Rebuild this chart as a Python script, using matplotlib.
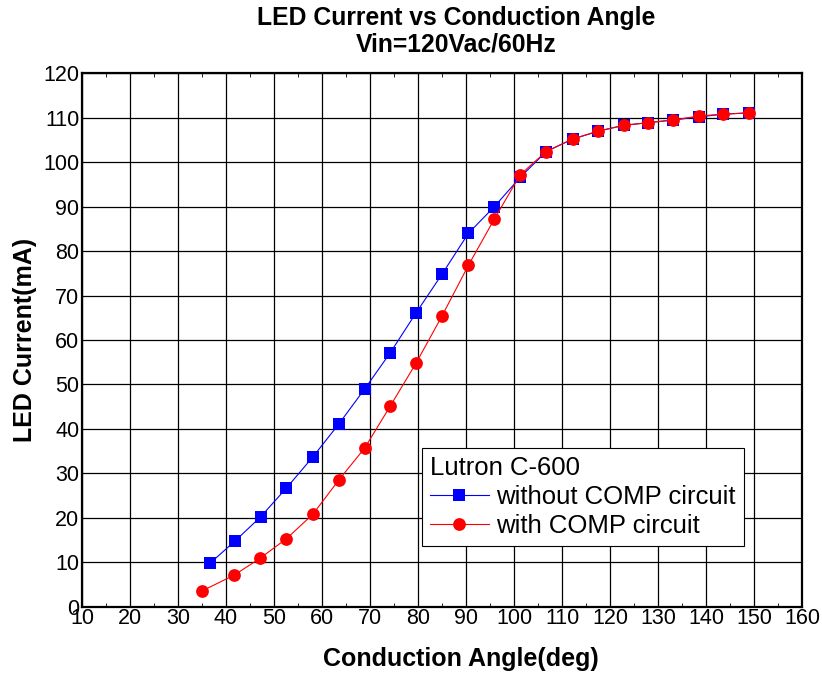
import matplotlib
matplotlib.use("Agg")
import matplotlib.pyplot as plt
from matplotlib.ticker import MultipleLocator

plt.rcParams['font.family'] = ['Liberation Sans', 'DejaVu Sans']

# ---- data ----
angle_without = [36.7, 41.9, 47.2, 52.6, 58.1, 63.5, 68.9, 74.2, 79.6, 85.0, 90.5,
                 95.9, 101.3, 106.7, 112.2, 117.6, 122.9, 128.0, 133.2, 138.6, 143.5, 149.0]
current_without = [9.8, 14.8, 20.2, 26.7, 33.7, 41.1, 49.0, 57.1, 66.1, 74.8, 84.0,
                   90.0, 96.6, 102.4, 105.2, 107.0, 108.3, 108.9, 109.5, 110.2, 110.8, 111.1]
angle_with = [35.1, 41.7, 47.1, 52.6, 58.1, 63.5, 68.9, 74.2, 79.6, 85.0, 90.5,
              95.9, 101.3, 106.7, 112.2, 117.6, 122.9, 128.0, 133.2, 138.6, 143.5, 149.0]
current_with = [3.6, 7.1, 10.9, 15.3, 20.8, 28.5, 35.7, 45.1, 54.8, 65.4, 76.8,
                87.2, 97.2, 102.4, 105.2, 107.0, 108.3, 108.9, 109.5, 110.4, 110.8, 111.1]
label_without = "without COMP circuit"
label_with = "with COMP circuit"
legend_title = "Lutron C-600"
title = "LED Current vs Conduction Angle\nVin=120Vac/60Hz"
xlabel = "Conduction Angle(deg)"
ylabel = "LED Current(mA)"

W, H = 822, 684
fig = plt.figure(figsize=(W / 100, H / 100), dpi=100)
ax = fig.add_axes([82 / W, (H - 606.7) / H, 720 / W, 533.4 / H])

ax.plot(angle_without, current_without, color='#0000ff', lw=0.8, marker='s',
        markersize=8, markeredgewidth=0, label=label_without, zorder=3)
ax.plot(angle_with, current_with, color='#ff0000', lw=0.8, marker='o',
        markersize=9.2, markeredgewidth=0, label=label_with, zorder=4)

ax.set_xlim(10, 160)
ax.set_ylim(0, 120)
ax.xaxis.set_major_locator(MultipleLocator(10))
ax.yaxis.set_major_locator(MultipleLocator(10))
ax.xaxis.set_minor_locator(MultipleLocator(5))
ax.grid(True, which='major', color='black', lw=0.9, zorder=1)
ax.set_axisbelow(True)
ax.tick_params(axis='both', which='major', length=0, labelsize=15.5)
ax.tick_params(axis='x', which='major', pad=1)
ax.tick_params(axis='y', which='major', pad=2)
ax.tick_params(axis='x', which='minor', direction='in', length=3, width=0.6,
               top=True, bottom=True)
for s in ax.spines.values():
    s.set_linewidth(1.6)
    s.set_color('black')

leg = ax.legend(title=legend_title, loc='upper left', bbox_to_anchor=(0.472, 0.2975),
                borderaxespad=0, frameon=True, fancybox=False, edgecolor='black',
                framealpha=1, fontsize=18.5, title_fontsize=18.5, handlelength=2.3,
                handletextpad=0.3, labelspacing=0.2, borderpad=0.3, alignment='left')
leg.get_frame().set_linewidth(0.8)
leg.set_zorder(10)

fig.text(456 / W, 1 - 6 / H, title, ha='center', va='top', fontsize=17.8,
         fontweight='bold', linespacing=1.15)
fig.text(461 / W, 18 / H, xlabel, ha='center', va='baseline', fontsize=18,
         fontweight='bold')
fig.text(25 / W, 1 - 340 / H, ylabel, ha='center', va='center', fontsize=18,
         fontweight='bold', rotation=90)

fig.savefig("out.png", dpi=100)
